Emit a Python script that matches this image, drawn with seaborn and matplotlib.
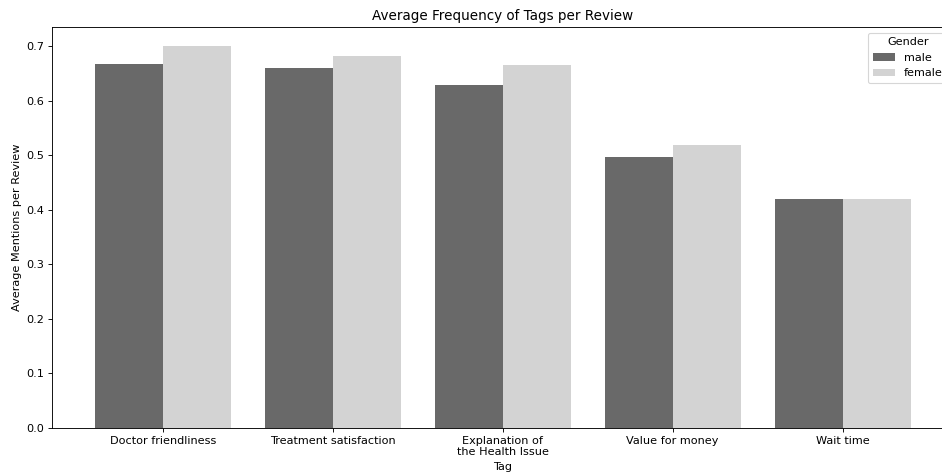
import matplotlib
matplotlib.use("Agg")
import matplotlib.pyplot as plt
import seaborn as sns
import pandas as pd

tags = ["Doctor friendliness", "Treatment satisfaction", "Explanation of\nthe Health Issue",
        "Value for money", "Wait time"]
male_vals = [0.667, 0.659, 0.629, 0.496, 0.420]
female_vals = [0.700, 0.681, 0.666, 0.519, 0.420]

df = pd.DataFrame({
    "Tag": tags * 2,
    "Average Mentions per Review": male_vals + female_vals,
    "Gender": ["male"] * len(tags) + ["female"] * len(tags),
})

DPI = 81
fig = plt.figure(figsize=(942 / DPI, 474 / DPI), dpi=DPI)
# right spine sits just past the image edge, like the reference
ax = fig.add_axes([52 / 942, 46 / 474, 901 / 942, 401 / 474])

sns.barplot(data=df, x="Tag", y="Average Mentions per Review", hue="Gender",
            palette={"male": "dimgray", "female": "lightgray"}, ax=ax)

ax.set_xlim(-0.653, 4.65)
ax.set_title("Average Frequency of Tags per Review")
ax.legend(title="Gender", loc="upper right")

fig.savefig("out.png", dpi=DPI)
